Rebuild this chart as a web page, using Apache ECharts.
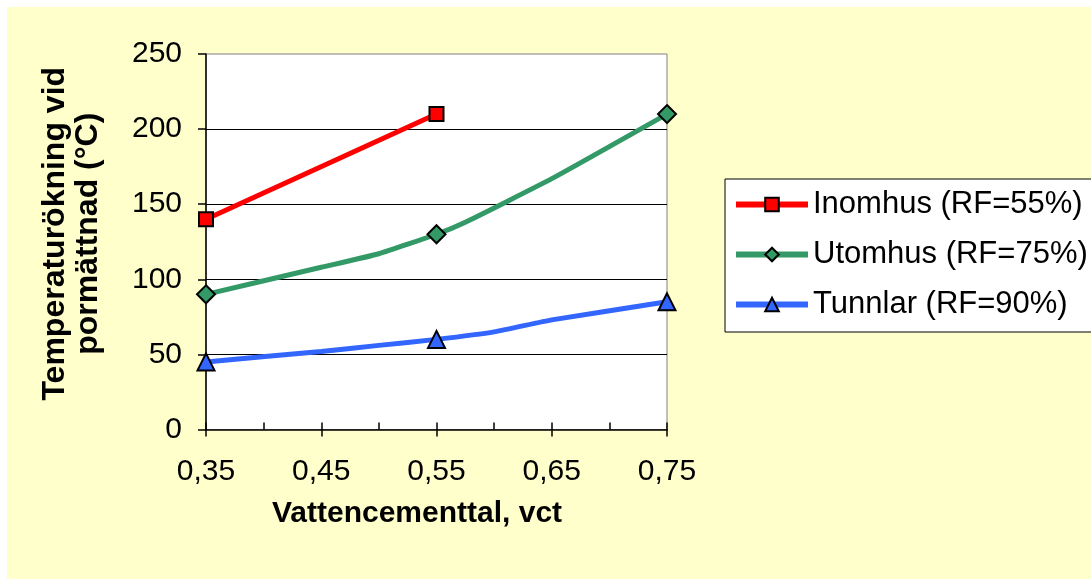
<!DOCTYPE html>
<html>
<head>
<meta charset="utf-8">
<script src="https://cdn.jsdelivr.net/npm/echarts@6/dist/echarts.min.js"></script>
<style>
html,body{margin:0;padding:0;background:#fff;}
#wrap{position:relative;width:1091px;height:579px;background:#fff;overflow:hidden;}
#chart{position:absolute;left:7px;top:7px;width:1084px;height:572px;}
</style>
</head>
<body>
<div id="wrap"><div id="chart"></div></div>
<script>
// Data
const seriesNames = ['Inomhus (RF=55%)', 'Utomhus (RF=75%)', 'Tunnlar (RF=90%)'];
const inomhusX = [0.35, 0.55];
const inomhusY = [140, 210];
const utomhusX = [0.35, 0.45, 0.50, 0.55, 0.575, 0.65, 0.75];
const utomhusY = [90, 108, 117, 130, 138, 167, 210];
const tunnlarX = [0.35, 0.45, 0.50, 0.55, 0.60, 0.65, 0.75];
const tunnlarY = [45, 52, 56, 60, 65, 73, 85];
const markedX = [0.35, 0.55, 0.75];
const xTicks = ['0,35', '0,45', '0,55', '0,65', '0,75'];
const yTicks = [0, 50, 100, 150, 200, 250];

const FONT = "'Liberation Sans', Arial, sans-serif";

function build(xs, ys) {
  return xs.map((x, i) => {
    const marked = markedX.some(m => Math.abs(m - x) < 1e-9);
    return marked ? { value: [x, ys[i]] } : { value: [x, ys[i]], symbol: 'none' };
  });
}

const chart = echarts.init(document.getElementById('chart'), null, { renderer: 'canvas' });

const option = {
  backgroundColor: '#FFFFCC',
  animation: false,
  textStyle: { fontFamily: FONT },
  grid: {
    left: 199, top: 47, right: 424, bottom: 149.5,
    show: true, backgroundColor: '#ffffff', borderColor: '#808080', borderWidth: 1
  },
  legend: {
    orient: 'vertical',
    left: 718, top: 172,
    padding: [10, 40, 12, 8],
    backgroundColor: '#ffffff',
    borderColor: '#000000', borderWidth: 1,
    itemWidth: 72, itemHeight: 17, itemGap: 19,
    lineStyle: { width: 6 },
    itemStyle: { borderColor: '#000', borderWidth: 2 },
    textStyle: { fontSize: 31, fontFamily: FONT, color: '#000', lineHeight: 31 },
    data: seriesNames
  },
  xAxis: [{
    type: 'value', min: 0.35, max: 0.75, interval: 0.1,
    axisLine: { show: true, lineStyle: { color: '#000', width: 1.5 } },
    axisTick: { show: true, inside: false, length: 7, lineStyle: { color: '#000', width: 1.5 } },
    splitLine: { show: false },
    axisLabel: {
      fontSize: 30, color: '#000', margin: 27, fontFamily: FONT,
      formatter: function (v) {
        const idx = Math.round((v - 0.35) / 0.1);
        return xTicks[idx] !== undefined ? xTicks[idx] : v.toFixed(2).replace('.', ',');
      }
    },
    name: 'Vattencementtal, vct',
    nameLocation: 'middle', nameGap: 69,
    nameTextStyle: { fontSize: 30, fontWeight: 'bold', color: '#000', fontFamily: FONT, padding: [0, 39, 0, 0] }
  }, {
    type: 'value', min: 0.35, max: 0.75, interval: 0.05, position: 'bottom',
    axisLine: { show: false },
    axisTick: { show: true, inside: true, length: 7, lineStyle: { color: '#000', width: 1.5 } },
    axisLabel: { show: false },
    splitLine: { show: false }
  }],
  yAxis: {
    type: 'value', min: 0, max: 250, interval: 50,
    axisLine: { show: true, lineStyle: { color: '#000', width: 1.5 } },
    axisTick: { show: true, inside: false, length: 8, lineStyle: { color: '#000', width: 1.5 } },
    splitLine: { show: true, showMinLine: false, showMaxLine: false, lineStyle: { color: '#000', width: 1 } },
    axisLabel: {
      fontSize: 30, color: '#000', margin: 24, fontFamily: FONT,
      formatter: function (v) { const i = yTicks.indexOf(v); return i >= 0 ? String(yTicks[i]) : String(v); }
    },
    name: 'Temperaturökning vid\npormättnad (°C)',
    nameLocation: 'middle', nameRotate: 90, nameGap: 101,
    nameTextStyle: { fontSize: 32, fontWeight: 'bold', color: '#000', fontFamily: FONT, lineHeight: 33, padding: [0, 0, 0, 16] }
  },
  series: [{
    name: seriesNames[0], type: 'line', xAxisIndex: 0,
    data: build(inomhusX, inomhusY),
    symbol: 'rect', symbolSize: 14, showAllSymbol: true,
    lineStyle: { color: '#FF0000', width: 5 },
    itemStyle: { color: '#FF0000', borderColor: '#000', borderWidth: 2 },
    z: 4
  }, {
    name: seriesNames[1], type: 'line', xAxisIndex: 0, smooth: 0.15,
    data: build(utomhusX, utomhusY),
    symbol: 'diamond', symbolSize: 18, showAllSymbol: true,
    lineStyle: { color: '#339966', width: 5 },
    itemStyle: { color: '#339966', borderColor: '#000', borderWidth: 2 },
    z: 3
  }, {
    name: seriesNames[2], type: 'line', xAxisIndex: 0, smooth: 0.15,
    data: build(tunnlarX, tunnlarY),
    symbol: 'triangle', symbolSize: 17, showAllSymbol: true,
    lineStyle: { color: '#3366FF', width: 5 },
    itemStyle: { color: '#3366FF', borderColor: '#000', borderWidth: 2 },
    z: 2
  }]
};
chart.setOption(option);
</script>
</body>
</html>
